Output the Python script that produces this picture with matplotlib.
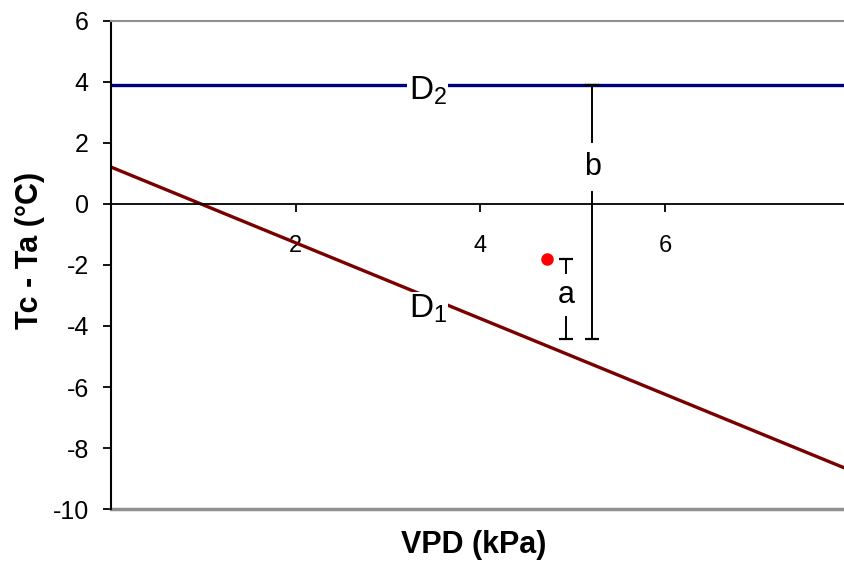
import matplotlib.pyplot as plt
import numpy as np

plt.rcParams['font.family'] = ['Liberation Sans', 'DejaVu Sans']
plt.rcParams['mathtext.default'] = 'regular'
plt.rcParams['axes.unicode_minus'] = False

# Linien D1 (untere Grenze) und D2 (obere Grenze)
vpd_line = [0.0, 7.95]
d1_values = [1.21, -8.66]
d2_values = [3.9, 3.9]

# Messpunkt
point_vpd = [4.72]
point_dt = [-1.8]

# Abstaende a und b: x, unten, oben, Luecke fuer die Beschriftung
a_bar = dict(x=4.93, lo=-4.43, hi=-1.8, gap=(-3.7, -2.26), label='a', ty=-2.98)
b_bar = dict(x=5.21, lo=-4.43, hi=3.9, gap=(0.39, 2.03), label='b', ty=1.2)

fig = plt.figure(figsize=(8.45, 5.69), dpi=100)
ax = fig.add_axes([0.1314, 0.1054, 0.8686, 0.8578])

ax.plot(vpd_line, d2_values, color='#000080', linewidth=2.4, zorder=2)
ax.plot(vpd_line, d1_values, color='#7a0000', linewidth=2.4, zorder=2)
ax.plot(point_vpd, point_dt, 'o', color='#ff0000', markersize=8, zorder=4)

for bar in (a_bar, b_bar):
    x = bar['x']
    ax.plot([x, x], [bar['lo'], bar['gap'][0]], color='black', linewidth=1.4, zorder=3)
    ax.plot([x, x], [bar['gap'][1], bar['hi']], color='black', linewidth=1.4, zorder=3)
    ax.plot([x, x], [bar['lo'], bar['hi']], linestyle='none', marker='_',
            markersize=10, markeredgewidth=1.6, color='black', zorder=3)
    ax.text(x, bar['ty'], bar['label'], fontsize=22, ha='center', va='center', zorder=5)

label_box = dict(facecolor='white', edgecolor='none', pad=1)
ax.text(3.43, 3.72, 'D$_2$', fontsize=24, ha='center', va='center',
        bbox=label_box, zorder=5)
ax.text(3.43, -3.45, 'D$_1$', fontsize=24, ha='center', va='center',
        bbox=label_box, zorder=5)

ax.set_xlim(0, 7.95)
ax.set_ylim(-10, 6)
ax.set_xticks([2, 4, 6])
ax.set_yticks(np.arange(-10, 7, 2))

ax.spines['right'].set_visible(False)
ax.spines['top'].set_color('#909090')
ax.spines['top'].set_linewidth(1.5)
ax.spines['left'].set_linewidth(1.5)
ax.spines['bottom'].set_position(('data', 0))
ax.spines['bottom'].set_linewidth(1.3)
ax.axhline(-10, color='#909090', linewidth=2.5, clip_on=False)

ax.tick_params(axis='x', direction='out', length=6, width=1.3, pad=16, labelsize=17)
ax.tick_params(axis='y', direction='out', length=6, width=1.3, pad=10, labelsize=18)

fig.text(0.036, 0.559, 'Tc - Ta (°C)', fontsize=22, fontweight='bold',
         rotation=90, ha='center', va='center')
fig.text(0.56, 0.042, 'VPD (kPa)', fontsize=22, fontweight='bold',
         ha='center', va='center')

fig.savefig('out.png', dpi=100)
